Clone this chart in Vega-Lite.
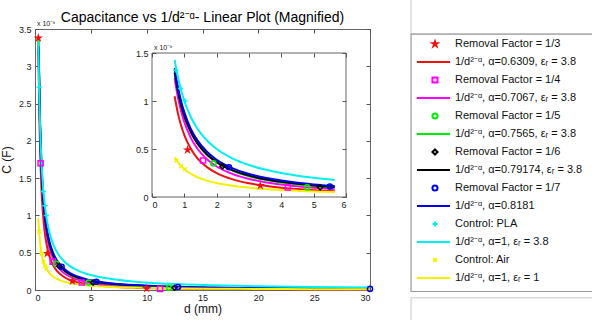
{
  "$schema": "https://vega.github.io/schema/vega-lite/v6.json",
  "width": 335,
  "height": 261,
  "autosize": "none",
  "padding": {"left": 35, "top": 29, "right": 222, "bottom": 30},
  "background": "white",
  "config": {
    "view": {"stroke": "#666", "strokeWidth": 1},
    "font": "Liberation Sans",
    "axis": {"labelFont": "Liberation Sans", "labelFontSize": 9, "labelColor": "#222", "tickColor": "#555", "domain": false, "grid": false, "titleFont": "Liberation Sans", "titleFontWeight": "normal", "titleColor": "#111"}
  },
  "datasets": {
    "curves": [
      {"d": 0.3, "r": 3.348, "c": 3.333, "y": 0.967},
      {"d": 0.33, "r": 2.938, "m": 3.272, "g": 3.382, "k": 3.214, "b": 3.267, "c": 3.03, "y": 0.879},
      {"d": 0.35, "r": 2.711, "m": 3.032, "g": 3.143, "k": 2.994, "b": 3.047, "c": 2.857, "y": 0.829},
      {"d": 0.4, "r": 2.258, "m": 2.551, "g": 2.662, "k": 2.548, "b": 2.602, "c": 2.5, "y": 0.725},
      {"d": 0.45, "r": 1.921, "m": 2.191, "g": 2.299, "k": 2.21, "b": 2.264, "c": 2.222, "y": 0.644},
      {"d": 0.5, "r": 1.663, "m": 1.911, "g": 2.017, "k": 1.946, "b": 1.999, "c": 2.0, "y": 0.58},
      {"d": 0.6, "r": 1.296, "m": 1.51, "g": 1.608, "k": 1.561, "b": 1.611, "c": 1.667, "y": 0.483},
      {"d": 0.7, "r": 1.049, "m": 1.237, "g": 1.328, "k": 1.296, "b": 1.343, "c": 1.429, "y": 0.414},
      {"d": 0.8, "r": 0.874, "m": 1.041, "g": 1.124, "k": 1.103, "b": 1.147, "c": 1.25, "y": 0.3625},
      {"d": 0.9, "r": 0.744, "m": 0.894, "g": 0.971, "k": 0.956, "b": 0.998, "c": 1.111, "y": 0.322},
      {"d": 1.0, "r": 0.644, "m": 0.78, "g": 0.852, "k": 0.842, "b": 0.881, "c": 1.0, "y": 0.29},
      {"d": 1.2, "r": 0.502, "m": 0.616, "g": 0.679, "k": 0.676, "b": 0.71, "c": 0.833, "y": 0.242},
      {"d": 1.4, "r": 0.406, "m": 0.505, "g": 0.561, "k": 0.561, "b": 0.592, "c": 0.714, "y": 0.207},
      {"d": 1.7, "r": 0.311, "m": 0.393, "g": 0.44, "k": 0.443, "b": 0.471, "c": 0.588, "y": 0.171},
      {"d": 2.0, "r": 0.249, "m": 0.318, "g": 0.36, "k": 0.364, "b": 0.388, "c": 0.5, "y": 0.145},
      {"d": 2.5, "r": 0.184, "m": 0.238, "g": 0.273, "k": 0.278, "b": 0.298, "c": 0.4, "y": 0.116},
      {"d": 3.0, "r": 0.143, "m": 0.188, "g": 0.217, "k": 0.223, "b": 0.24, "c": 0.333, "y": 0.0967},
      {"d": 3.5, "r": 0.116, "m": 0.154, "g": 0.179, "k": 0.185, "b": 0.2, "c": 0.286, "y": 0.0829},
      {"d": 4.0, "r": 0.0965, "m": 0.13, "g": 0.152, "k": 0.158, "b": 0.171, "c": 0.25, "y": 0.0725},
      {"d": 4.5, "r": 0.0821, "m": 0.1115, "g": 0.131, "k": 0.137, "b": 0.149, "c": 0.222, "y": 0.0644},
      {"d": 5.0, "r": 0.0711, "m": 0.0973, "g": 0.115, "k": 0.12, "b": 0.1315, "c": 0.2, "y": 0.058},
      {"d": 5.65, "r": 0.0601, "m": 0.0831, "g": 0.0989, "k": 0.104, "b": 0.1138, "c": 0.177, "y": 0.0513},
      {"d": 7, "r": 0.0449, "m": 0.063, "g": 0.0758, "k": 0.0802, "b": 0.0884, "c": 0.143, "y": 0.0414},
      {"d": 9, "r": 0.0318, "m": 0.0455, "g": 0.0555, "k": 0.0592, "b": 0.0656, "c": 0.111, "y": 0.0322},
      {"d": 12, "r": 0.0214, "m": 0.0314, "g": 0.0388, "k": 0.0418, "b": 0.0467, "c": 0.0833, "y": 0.0242},
      {"d": 16, "r": 0.0145, "m": 0.0216, "g": 0.0271, "k": 0.0295, "b": 0.0333, "c": 0.0625, "y": 0.0181},
      {"d": 20, "r": 0.0107, "m": 0.0162, "g": 0.0205, "k": 0.0225, "b": 0.0255, "c": 0.05, "y": 0.0145},
      {"d": 25, "r": 0.00785, "m": 0.0121, "g": 0.0156, "k": 0.0172, "b": 0.0196, "c": 0.04, "y": 0.0116},
      {"d": 30, "r": 0.00612, "m": 0.00959, "g": 0.0124, "k": 0.0138, "b": 0.0158, "c": 0.0333, "y": 0.00967}
    ],
    "marks": [
      {"s": "r", "d": 0.3, "C": 3.38}, {"s": "r", "d": 1.1, "C": 0.49}, {"s": "r", "d": 3.35, "C": 0.12}, {"s": "r", "d": 10, "C": 0.02},
      {"s": "m", "d": 0.5, "C": 1.7}, {"s": "m", "d": 1.58, "C": 0.38}, {"s": "m", "d": 4.2, "C": 0.1}, {"s": "m", "d": 11.2, "C": 0.015},
      {"s": "g", "d": 1.9, "C": 0.35}, {"s": "g", "d": 4.8, "C": 0.1}, {"s": "g", "d": 12, "C": 0.03},
      {"s": "k", "d": 2.18, "C": 0.32}, {"s": "k", "d": 5.2, "C": 0.1}, {"s": "k", "d": 12.5, "C": 0.03},
      {"s": "b", "d": 2.38, "C": 0.31}, {"s": "b", "d": 5.5, "C": 0.11}, {"s": "b", "d": 12.8, "C": 0.04}, {"s": "b", "d": 30, "C": 0.015},
      {"s": "c", "d": 0.37, "C": 2.72}, {"s": "c", "d": 0.74, "C": 1.32}, {"s": "c", "d": 0.88, "C": 1.13}, {"s": "c", "d": 1.02, "C": 1.0},
      {"s": "y", "d": 0.37, "C": 0.78}, {"s": "y", "d": 0.6, "C": 0.49}, {"s": "y", "d": 0.75, "C": 0.38}, {"s": "y", "d": 0.9, "C": 0.32}, {"s": "y", "d": 1.02, "C": 0.29}
    ],
    "leg": [
      {"i": 0, "s": "r", "kind": "pt", "label": "Removal Factor = 1/3"},
      {"i": 1, "s": "r", "kind": "ln", "label": "1/d²⁻ᵅ, α=0.6309, εᵣ = 3.8"},
      {"i": 2, "s": "m", "kind": "pt", "label": "Removal Factor = 1/4"},
      {"i": 3, "s": "m", "kind": "ln", "label": "1/d²⁻ᵅ, α=0.7067, εᵣ = 3.8"},
      {"i": 4, "s": "g", "kind": "pt", "label": "Removal Factor = 1/5"},
      {"i": 5, "s": "g", "kind": "ln", "label": "1/d²⁻ᵅ, α=0.7565, εᵣ = 3.8"},
      {"i": 6, "s": "k", "kind": "pt", "label": "Removal Factor = 1/6"},
      {"i": 7, "s": "k", "kind": "ln", "label": "1/d²⁻ᵅ, α=0.79174, εᵣ = 3.8"},
      {"i": 8, "s": "b", "kind": "pt", "label": "Removal Factor = 1/7"},
      {"i": 9, "s": "b", "kind": "ln", "label": "1/d²⁻ᵅ, α=0.8181"},
      {"i": 10, "s": "c", "kind": "pt", "label": "Control: PLA"},
      {"i": 11, "s": "c", "kind": "ln", "label": "1/d²⁻ᵅ, α=1, εᵣ = 3.8"},
      {"i": 12, "s": "y", "kind": "pt", "label": "Control: Air"},
      {"i": 13, "s": "y", "kind": "ln", "label": "1/d²⁻ᵅ, α=1, εᵣ = 1"}
    ]
  },
  "layer": [
    {
      "layer": [
        {
          "data": {"name": "curves"},
          "transform": [{"fold": ["r", "m", "g", "k", "b", "c", "y"], "as": ["s", "C"]}],
          "mark": {"type": "line", "strokeWidth": 2, "interpolate": "monotone"},
          "encoding": {
            "x": {"field": "d", "type": "quantitative", "scale": {"domain": [0, 30], "nice": false},
                  "axis": {"orient": "bottom", "values": [0, 5, 10, 15, 20, 25, 30], "tickSize": -4, "labelPadding": 7, "title": "d (mm)", "titleFontSize": 12, "titlePadding": 1}},
            "y": {"field": "C", "type": "quantitative", "scale": {"domain": [0, 3.5], "nice": false},
                  "axis": {"orient": "left", "values": [0, 0.5, 1, 1.5, 2, 2.5, 3, 3.5], "format": "~g", "tickSize": -4, "labelPadding": 8, "title": "C (F)", "titleFontSize": 12, "titlePadding": 5}},
            "color": {"field": "s", "type": "nominal", "legend": null, "scale": {"domain": ["b", "c", "g", "k", "m", "r", "y"], "range": ["#0000e0", "#00f0f0", "#00ee00", "#000000", "#ff00ff", "#ee1111", "#f2f200"]}}
          }
        },
        {
          "data": {"name": "marks"},
          "mark": {"type": "point", "filled": false, "size": 26, "strokeWidth": 1.5, "opacity": 1},
          "encoding": {
            "x": {"field": "d", "type": "quantitative", "scale": {"domain": [0, 30], "nice": false},
                  "axis": {"orient": "top", "values": [0, 5, 10, 15, 20, 25, 30], "tickSize": -4, "labels": false, "title": null}},
            "y": {"field": "C", "type": "quantitative", "scale": {"domain": [0, 3.5], "nice": false},
                  "axis": {"orient": "right", "values": [0, 0.5, 1, 1.5, 2, 2.5, 3, 3.5], "tickSize": -4, "labels": false, "title": null}},
            "color": {"field": "s", "type": "nominal", "legend": null, "scale": {"domain": ["b", "c", "g", "k", "m", "r", "y"], "range": ["#0000e0", "#00f0f0", "#00ee00", "#000000", "#ff00ff", "#ee1111", "#f2f200"]}},
            "shape": {"field": "s", "type": "nominal", "legend": null, "scale": {"domain": ["b", "c", "g", "k", "m", "r", "y"], "range": ["circle", "M-1,0H1M0,-1V1", "circle", "diamond", "square", "M0,-1L0.2245,-0.309L0.951,-0.309L0.363,0.118L0.588,0.809L0,0.382L-0.588,0.809L-0.363,0.118L-0.951,-0.309L-0.2245,-0.309Z", "M-0.75,-0.75L0.75,0.75M0.75,-0.75L-0.75,0.75"]}}
          }
        },
        {
          "data": {"values": [{}]},
          "mark": {"type": "text", "align": "left", "baseline": "bottom", "fontSize": 7, "dx": 2, "dy": -2, "color": "#222"},
          "encoding": {
            "x": {"datum": 0, "type": "quantitative", "scale": {"domain": [0, 30], "nice": false}, "axis": null},
            "y": {"datum": 3.5, "type": "quantitative", "scale": {"domain": [0, 3.5], "nice": false}, "axis": null},
            "text": {"value": "x 10⁻⁹"}
          }
        },
        {
          "data": {"values": [{}]},
          "mark": {"type": "text", "align": "center", "baseline": "alphabetic", "fontSize": 14, "dy": -7, "color": "#000"},
          "encoding": {
            "x": {"datum": 15, "type": "quantitative", "scale": {"domain": [0, 30], "nice": false}, "axis": null},
            "y": {"datum": 3.5, "type": "quantitative", "scale": {"domain": [0, 3.5], "nice": false}, "axis": null},
            "text": {"value": "Capacitance vs 1/d²⁻ᵅ- Linear Plot (Magnified)"}
          }
        }
      ],
      "resolve": {"axis": {"x": "independent", "y": "independent"}}
    },
    {
      "layer": [
        {
          "data": {"values": [{}]},
          "mark": {"type": "rect", "fill": "white", "stroke": "#666", "strokeWidth": 1},
          "encoding": {
            "x": {"datum": 0, "type": "quantitative", "scale": {"domain": [0, 6], "range": [117, 311], "nice": false},
                  "axis": {"orient": "bottom", "offset": -93, "values": [0, 1, 2, 3, 4, 5, 6], "tickSize": -4, "labelPadding": 7, "title": null, "zindex": 1}},
            "x2": {"datum": 6},
            "y": {"datum": 0, "type": "quantitative", "scale": {"domain": [0, 1.5], "range": [168, 24], "nice": false},
                  "axis": {"orient": "left", "offset": -117, "values": [0, 0.5, 1, 1.5], "format": "~g", "tickSize": -4, "labelPadding": 8, "title": null, "zindex": 1}},
            "y2": {"datum": 1.5}
          }
        },
        {
          "data": {"name": "curves"},
          "transform": [{"fold": ["r", "m", "g", "k", "b", "c", "y"], "as": ["s", "C"]}, {"filter": {"field": "d", "range": [0.7, 5.65]}}],
          "mark": {"type": "line", "strokeWidth": 2, "interpolate": "monotone"},
          "encoding": {
            "x": {"field": "d", "type": "quantitative", "scale": {"domain": [0, 6], "range": [117, 311], "nice": false},
                  "axis": {"orient": "top", "offset": -24, "values": [0, 1, 2, 3, 4, 5, 6], "tickSize": -4, "labels": false, "title": null, "zindex": 1}},
            "y": {"field": "C", "type": "quantitative", "scale": {"domain": [0, 1.5], "range": [168, 24], "nice": false},
                  "axis": {"orient": "right", "offset": -24, "values": [0, 0.5, 1, 1.5], "tickSize": -4, "labels": false, "title": null, "zindex": 1}},
            "color": {"field": "s", "type": "nominal", "legend": null, "scale": {"domain": ["b", "c", "g", "k", "m", "r", "y"], "range": ["#0000e0", "#00f0f0", "#00ee00", "#000000", "#ff00ff", "#ee1111", "#f2f200"]}}
          }
        },
        {
          "data": {"name": "marks"},
          "transform": [{"filter": "datum.d >= 0.7 && datum.C <= 1.5"}],
          "mark": {"type": "point", "filled": false, "size": 26, "strokeWidth": 1.5, "opacity": 1},
          "encoding": {
            "x": {"field": "d", "type": "quantitative", "scale": {"domain": [0, 6], "range": [117, 311], "nice": false}, "axis": null},
            "y": {"field": "C", "type": "quantitative", "scale": {"domain": [0, 1.5], "range": [168, 24], "nice": false}, "axis": null},
            "color": {"field": "s", "type": "nominal", "legend": null, "scale": {"domain": ["b", "c", "g", "k", "m", "r", "y"], "range": ["#0000e0", "#00f0f0", "#00ee00", "#000000", "#ff00ff", "#ee1111", "#f2f200"]}},
            "shape": {"field": "s", "type": "nominal", "legend": null, "scale": {"domain": ["b", "c", "g", "k", "m", "r", "y"], "range": ["circle", "M-1,0H1M0,-1V1", "circle", "diamond", "square", "M0,-1L0.2245,-0.309L0.951,-0.309L0.363,0.118L0.588,0.809L0,0.382L-0.588,0.809L-0.363,0.118L-0.951,-0.309L-0.2245,-0.309Z", "M-0.75,-0.75L0.75,0.75M0.75,-0.75L-0.75,0.75"]}}
          }
        },
        {
          "data": {"values": [{}]},
          "mark": {"type": "text", "align": "left", "baseline": "bottom", "fontSize": 7, "dx": 2, "dy": -2, "color": "#222"},
          "encoding": {
            "x": {"datum": 0, "type": "quantitative", "scale": {"domain": [0, 6], "range": [117, 311], "nice": false}, "axis": null},
            "y": {"datum": 1.5, "type": "quantitative", "scale": {"domain": [0, 1.5], "range": [168, 24], "nice": false}, "axis": null},
            "text": {"value": "x 10⁻⁹"}
          }
        }
      ],
      "resolve": {"axis": {"x": "independent", "y": "independent"}}
    },
    {
      "layer": [
        {
          "data": {"values": [{}]},
          "mark": {"type": "rect", "fill": "white", "stroke": "#c8c8c8", "strokeWidth": 1},
          "encoding": {
            "x": {"datum": -0.18, "type": "quantitative", "scale": {"domain": [0, 1], "range": [382, 415], "nice": false, "zero": false}, "axis": null},
            "x2": {"datum": 8},
            "y": {"datum": -5, "type": "quantitative", "scale": {"domain": [0, 13], "range": [15, 249], "nice": false, "zero": false}, "axis": null},
            "y2": {"datum": -0.55}
          }
        },
        {
          "data": {"values": [{}]},
          "mark": {"type": "rect", "fill": "white", "stroke": "#c8c8c8", "strokeWidth": 1},
          "encoding": {
            "x": {"datum": -0.18, "type": "quantitative", "scale": {"domain": [0, 1], "range": [382, 415], "nice": false, "zero": false}, "axis": null},
            "x2": {"datum": 8},
            "y": {"datum": 14.1, "type": "quantitative", "scale": {"domain": [0, 13], "range": [15, 249], "nice": false, "zero": false}, "axis": null},
            "y2": {"datum": 18}
          }
        },
        {
          "data": {"values": [{}]},
          "mark": {"type": "rect", "fill": "white", "stroke": "#999", "strokeWidth": 1.2},
          "encoding": {
            "x": {"datum": -0.18, "type": "quantitative", "scale": {"domain": [0, 1], "range": [382, 415], "nice": false, "zero": false}, "axis": null},
            "x2": {"datum": 8},
            "y": {"datum": -0.55, "type": "quantitative", "scale": {"domain": [0, 13], "range": [15, 249], "nice": false, "zero": false}, "axis": null},
            "y2": {"datum": 13.75}
          }
        },
        {
          "data": {"name": "leg"},
          "transform": [{"filter": "datum.kind == 'ln'"}],
          "mark": {"type": "rule", "strokeWidth": 2},
          "encoding": {
            "x": {"datum": 0, "type": "quantitative", "scale": {"domain": [0, 1], "range": [382, 415], "nice": false, "zero": false}, "axis": null},
            "x2": {"datum": 1},
            "y": {"field": "i", "type": "quantitative", "scale": {"domain": [0, 13], "range": [15, 249], "nice": false, "zero": false}, "axis": null},
            "color": {"field": "s", "type": "nominal", "legend": null, "scale": {"domain": ["b", "c", "g", "k", "m", "r", "y"], "range": ["#0000e0", "#00f0f0", "#00ee00", "#000000", "#ff00ff", "#ee1111", "#f2f200"]}}
          }
        },
        {
          "data": {"name": "leg"},
          "transform": [{"filter": "datum.kind == 'pt'"}],
          "mark": {"type": "point", "filled": false, "size": 26, "strokeWidth": 2, "opacity": 1},
          "encoding": {
            "x": {"datum": 0.545, "type": "quantitative", "scale": {"domain": [0, 1], "range": [382, 415], "nice": false, "zero": false}, "axis": null},
            "y": {"field": "i", "type": "quantitative", "scale": {"domain": [0, 13], "range": [15, 249], "nice": false, "zero": false}, "axis": null},
            "color": {"field": "s", "type": "nominal", "legend": null, "scale": {"domain": ["b", "c", "g", "k", "m", "r", "y"], "range": ["#0000e0", "#00f0f0", "#00ee00", "#000000", "#ff00ff", "#ee1111", "#f2f200"]}},
            "shape": {"field": "s", "type": "nominal", "legend": null, "scale": {"domain": ["b", "c", "g", "k", "m", "r", "y"], "range": ["circle", "M-1,0H1M0,-1V1", "circle", "diamond", "square", "M0,-1L0.2245,-0.309L0.951,-0.309L0.363,0.118L0.588,0.809L0,0.382L-0.588,0.809L-0.363,0.118L-0.951,-0.309L-0.2245,-0.309Z", "M-0.75,-0.75L0.75,0.75M0.75,-0.75L-0.75,0.75"]}}
          }
        },
        {
          "data": {"name": "leg"},
          "mark": {"type": "text", "align": "left", "baseline": "middle", "fontSize": 11, "color": "#111"},
          "encoding": {
            "x": {"datum": 1.15, "type": "quantitative", "scale": {"domain": [0, 1], "range": [382, 415], "nice": false, "zero": false}, "axis": null},
            "y": {"field": "i", "type": "quantitative", "scale": {"domain": [0, 13], "range": [15, 249], "nice": false, "zero": false}, "axis": null},
            "text": {"field": "label"}
          }
        }
      ]
    }
  ],
  "resolve": {"scale": {"x": "independent", "y": "independent"}}
}
